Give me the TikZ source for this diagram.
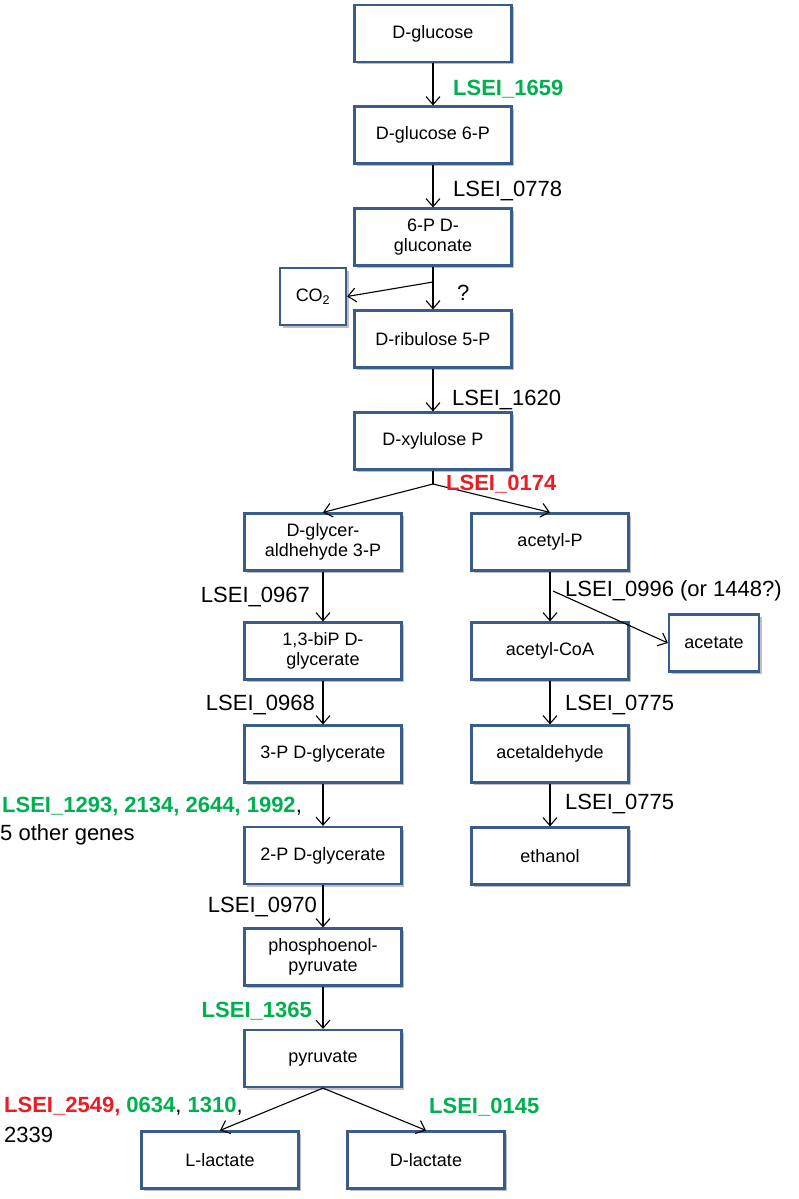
\documentclass[tikz,border=0pt]{standalone}
\usepackage{fontspec}
\setmainfont{Liberation Sans}
\usetikzlibrary{arrows.meta,shadows}
\definecolor{boxblue}{RGB}{56,93,138}
\definecolor{genegreen}{RGB}{0,176,80}
\definecolor{genered}{RGB}{236,28,36}
\begin{document}
\begin{tikzpicture}[x=1pt,y=-1pt]
  \tikzstyle{every node}=[inner sep=0pt]
  \tikzstyle{box}=[draw=boxblue,line width=2.2pt,fill=white,minimum width=157pt,minimum height=57pt,align=center,
    font=\fontsize{18}{20.5}\selectfont,drop shadow={shadow xshift=2.5pt,shadow yshift=-2.5pt,fill=black,opacity=0.25}]
  \tikzstyle{smallbox}=[box,minimum width=66pt]
  \tikzstyle{gene}=[font=\fontsize{22}{25}\selectfont]
  \tikzstyle{react}=[-{Straight Barb[length=8pt,width=14pt]},line width=1.1pt]
  \useasboundingbox (0,0) rectangle (799,1199);
  \node[box] (glc) at (433,33.5) {D-glucose};
  \node[box] (g6p) at (433,135) {D-glucose 6-P};
  \node[box] (gluc) at (433,237) {6-P D-\\gluconate};
  \node[smallbox] (co2) at (313,296.5) {CO\textsubscript{2}};
  \node[box] (rib) at (433,339) {D-ribulose 5-P};
  \node[box] (xyl) at (433,441) {D-xylulose P};
  \node[box] (gap) at (323,542) {D-glycer-\\aldhehyde 3-P};
  \node[box] (bpg) at (323,651) {1,3-biP D-\\glycerate};
  \node[box] (pg3) at (323,754) {3-P D-glycerate};
  \node[box] (pg2) at (323,855.5) {2-P D-glycerate};
  \node[box] (pep) at (323,957) {phosphoenol-\\pyruvate};
  \node[box] (pyr) at (323,1058.5) {pyruvate};
  \node[box] (llac) at (220,1160) {L-lactate};
  \node[box] (dlac) at (426,1160) {D-lactate};
  \node[box] (acp) at (550,542) {acetyl-P};
  \node[box] (acoa) at (550,651) {acetyl-CoA};
  \node[box] (acald) at (550,754) {acetaldehyde};
  \node[box] (etoh) at (550,856) {ethanol};
  \node[box,minimum width=90pt] (acet) at (714,643) {acetate};
  \coordinate (co2fork) at (433,282);
  \coordinate (xylfork) at (433,484);
  \coordinate (acfork) at (553,591);
  \draw[react] (glc) -- (g6p);
  \draw[react] (g6p) -- (gluc);
  \draw[react] (gluc) -- (rib);
  \draw[react] (co2fork) -- (co2.east);
  \draw[react] (rib) -- (xyl);
  \draw[line width=1.1pt] (xyl) -- (xylfork);
  \draw[react] (xylfork) -- (gap.north);
  \draw[react] (xylfork) -- (acp.north);
  \draw[react] (gap) -- (bpg);
  \draw[react] (bpg) -- (pg3);
  \draw[react] (pg3) -- (pg2);
  \draw[react] (pg2) -- (pep);
  \draw[react] (pep) -- (pyr);
  \draw[react] (pyr.south) -- (llac.north);
  \draw[react] (pyr.south) -- (dlac.north);
  \draw[react] (acp) -- (acoa);
  \draw[react] (acfork) -- (acet.west);
  \draw[react] (acoa) -- (acald);
  \draw[react] (acald) -- (etoh);
  \node[gene,anchor=west,text=genegreen] (l1659) at (453,89) {\bfseries LSEI\_1659};
  \node[gene,anchor=west] (l0778) at (453,191) {LSEI\_0778};
  \node[gene,anchor=west] (lq) at (457,293) {?};
  \node[gene,anchor=west] (l1620) at (452,400) {LSEI\_1620};
  \node[gene,anchor=west,text=genered] (l0174) at (446,484) {\bfseries LSEI\_0174};
  \node[gene,anchor=east] (l0967) at (310,597) {LSEI\_0967};
  \node[gene,anchor=east] (l0968) at (315,705) {LSEI\_0968};
  \node[gene,anchor=west] (l1293) at (2,807) {\textcolor{genegreen}{\bfseries LSEI\_1293, 2134, 2644, 1992},};
  \node[gene,anchor=west] (lother) at (0,835) {5 other genes};
  \node[gene,anchor=east] (l0970) at (317,907) {LSEI\_0970};
  \node[gene,anchor=east,text=genegreen] (l1365) at (312,1011) {\bfseries LSEI\_1365};
  \node[gene,anchor=west] (l2549) at (4,1107) {\textcolor{genered}{\bfseries LSEI\_2549,} \textcolor{genegreen}{\bfseries 0634}, \textcolor{genegreen}{\bfseries 1310},};
  \node[gene,anchor=west] (l2339) at (4,1135) {2339};
  \node[gene,anchor=west,text=genegreen] (l0145) at (429,1107) {\bfseries LSEI\_0145};
  \node[gene,anchor=west] (l0996) at (565,591) {LSEI\_0996 (or 1448?)};
  \node[gene,anchor=west] (l0775a) at (565,705) {LSEI\_0775};
  \node[gene,anchor=west] (l0775b) at (565,804) {LSEI\_0775};
\end{tikzpicture}
\end{document}
